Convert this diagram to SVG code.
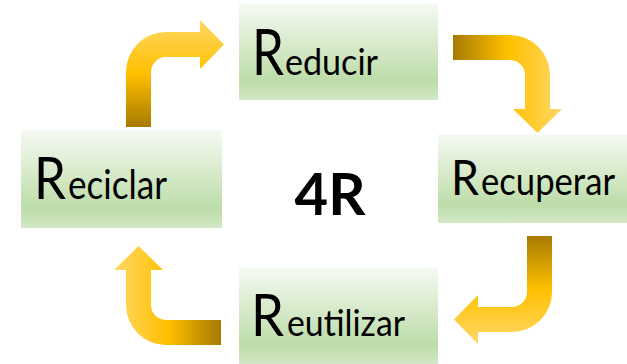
<svg xmlns="http://www.w3.org/2000/svg" width="627" height="364" viewBox="0 0 627 364">
  <defs>
    <linearGradient id="boxGrad" x1="0" y1="0" x2="0" y2="1">
      <stop offset="0" stop-color="#f6faf3"/>
      <stop offset="0.8" stop-color="#bddca9"/>
      <stop offset="1" stop-color="#d3e8c7"/>
    </linearGradient>
    <linearGradient id="gA" gradientUnits="userSpaceOnUse" x1="0" y1="127" x2="0" y2="19">
      <stop offset="0" stop-color="#a67a00"/>
      <stop offset="0.5" stop-color="#ffc000"/>
      <stop offset="1" stop-color="#ffd866"/>
    </linearGradient>
    <linearGradient id="gB" gradientUnits="userSpaceOnUse" x1="453" y1="0" x2="562" y2="0">
      <stop offset="0" stop-color="#a67a00"/>
      <stop offset="0.5" stop-color="#ffc000"/>
      <stop offset="1" stop-color="#ffd866"/>
    </linearGradient>
    <linearGradient id="gC" gradientUnits="userSpaceOnUse" x1="0" y1="236" x2="0" y2="344">
      <stop offset="0" stop-color="#a67a00"/>
      <stop offset="0.5" stop-color="#ffc000"/>
      <stop offset="1" stop-color="#ffd866"/>
    </linearGradient>
    <linearGradient id="gD" gradientUnits="userSpaceOnUse" x1="221" y1="0" x2="114" y2="0">
      <stop offset="0" stop-color="#a67a00"/>
      <stop offset="0.5" stop-color="#ffc000"/>
      <stop offset="1" stop-color="#ffd866"/>
    </linearGradient>
  </defs>
  <style>
    .box { fill: url(#boxGrad); }
    .lbl { font-family: Lato, "Liberation Sans", sans-serif; fill: #000; }
    .title { font-family: Lato, "Liberation Sans", sans-serif; font-weight: 700; fill: #000; }
  </style>

  <g id="connectors">
    <path id="arrow-reciclar-reducir" fill="url(#gA)" d="M126,127 L126,72 A40,40 0 0 1 166,32 L200,32 L200,20 L224,44.5 L200,69 L200,57 L166,57 A15,15 0 0 0 151,72 L151,127 Z"/>
    <path id="arrow-reducir-recuperar" fill="url(#gB)" d="M453,35 L510,35 A40,40 0 0 1 550,75 L550,109 L562,109 L537.5,133 L513,109 L525,109 L525,75 A15,15 0 0 0 510,60 L453,60 Z"/>
    <path id="arrow-recuperar-reutilizar" fill="url(#gC)" d="M527,236 L552,236 L552,292 A40,40 0 0 1 512,332 L478,332 L478,344 L454,319.5 L478,295 L478,307 L512,307 A15,15 0 0 0 527,292 Z"/>
    <path id="arrow-reutilizar-reciclar" fill="url(#gD)" d="M221,320 L166,320 A15,15 0 0 1 151,305 L151,270 L163,270 L138.5,246 L114,270 L126,270 L126,305 A40,40 0 0 0 166,345 L221,345 Z"/>
  </g>

  <g id="node-reducir">
    <rect class="box" x="239" y="3" width="199" height="97"/>
    <text class="lbl" x="252" y="75" font-size="63" textLength="32" lengthAdjust="spacingAndGlyphs">R</text>
    <text class="lbl" x="285" y="75" font-size="37" textLength="93" lengthAdjust="spacingAndGlyphs">educir</text>
  </g>

  <g id="node-reciclar">
    <rect class="box" x="21" y="130" width="201" height="98"/>
    <text class="lbl" x="34" y="199" font-size="58" textLength="32" lengthAdjust="spacingAndGlyphs">R</text>
    <text class="lbl" x="68" y="199" font-size="40" textLength="99" lengthAdjust="spacingAndGlyphs">eciclar</text>
  </g>

  <g id="node-recuperar">
    <rect class="box" x="438" y="134" width="189" height="89"/>
    <text class="lbl" x="451" y="195" font-size="49" textLength="28" lengthAdjust="spacingAndGlyphs">R</text>
    <text class="lbl" x="481" y="195" font-size="38" textLength="134" lengthAdjust="spacingAndGlyphs">ecuperar</text>
  </g>

  <g id="node-reutilizar">
    <rect class="box" x="239" y="267" width="199" height="97"/>
    <text class="lbl" x="251" y="336" font-size="59" textLength="33" lengthAdjust="spacingAndGlyphs">R</text>
    <text class="lbl" x="287" y="336" font-size="37" textLength="118" lengthAdjust="spacingAndGlyphs">eutilizar</text>
  </g>

  <g id="center-label">
    <text class="title" x="330" y="215" font-size="58" text-anchor="middle">4R</text>
  </g>
</svg>
